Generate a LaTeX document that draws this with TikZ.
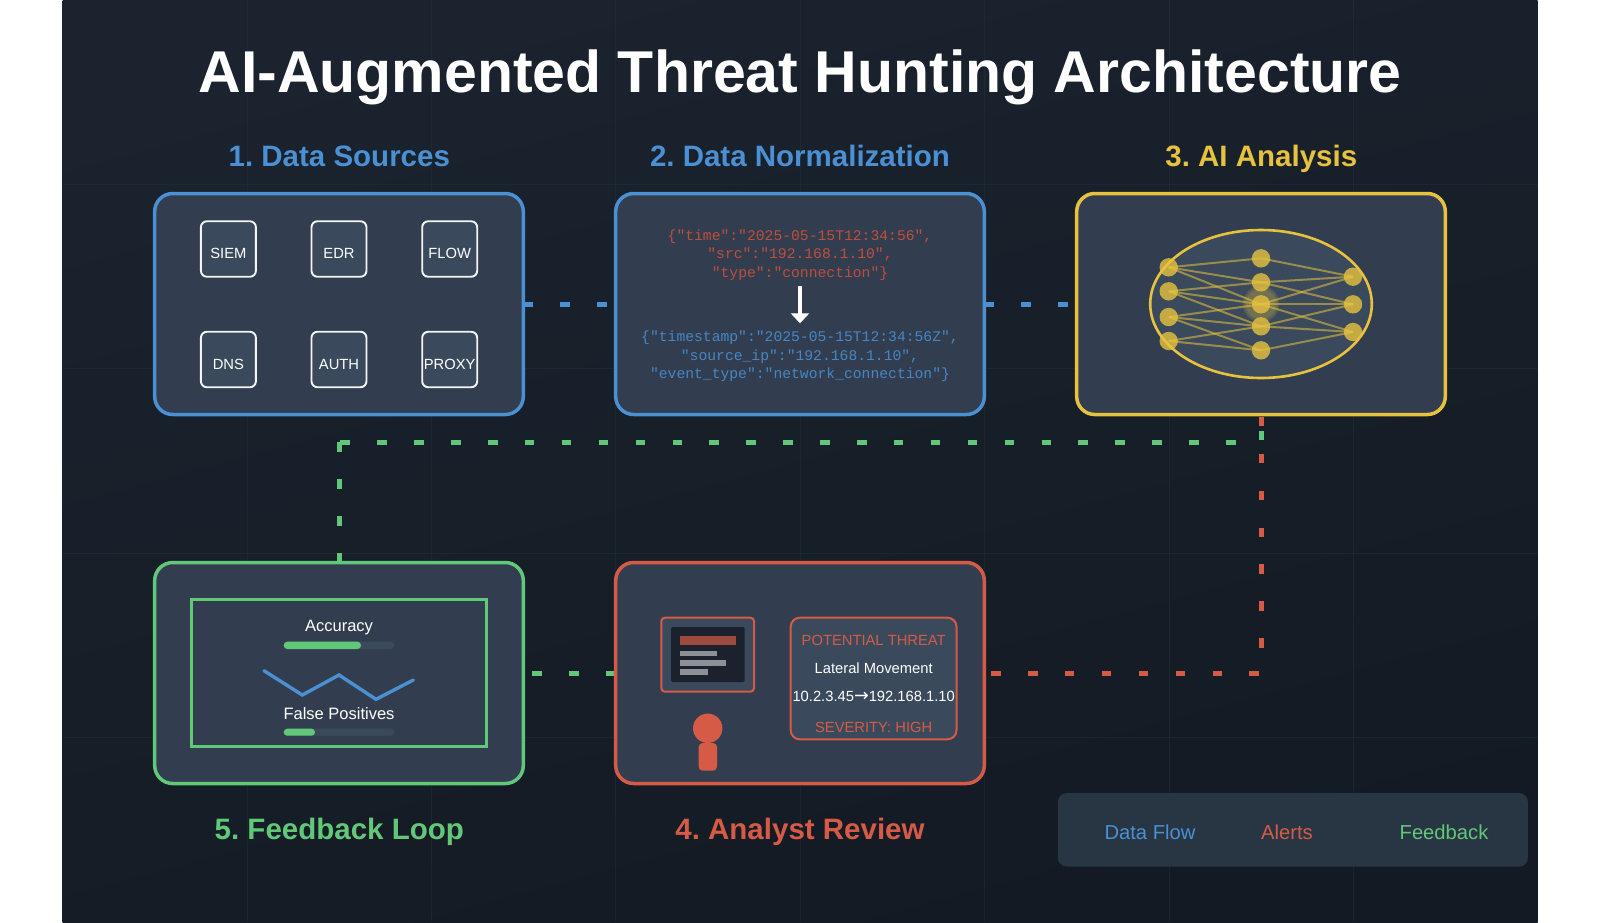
\documentclass[tikz,border=0pt]{standalone}
\usepackage{fontspec}
\setmainfont{Liberation Sans}
\newfontfamily\jsonfont{Liberation Mono}
\newfontfamily\arrowfont{DejaVu Sans}
\usetikzlibrary{arrows.meta}
\frenchspacing
\definecolor{cblue}{HTML}{4A90D2}
\definecolor{cred}{HTML}{D65B46}
\definecolor{cyel}{HTML}{E6C23F}
\definecolor{cgreen}{HTML}{62C879}
\definecolor{panelfill}{HTML}{323E4F}
\definecolor{innerfill}{HTML}{3A4A5C}
\definecolor{darkfill}{HTML}{1B222E}
\definecolor{bgtop}{HTML}{1A232E}
\definecolor{bgbottom}{HTML}{131A23}
\definecolor{legendfill}{HTML}{283543}
\definecolor{gridline}{HTML}{243540}
\definecolor{jsonred}{HTML}{BE4E3C}
\definecolor{jsonblue}{HTML}{4686C4}
\newcommand{\fsz}[1]{\fontsize{#1}{#1}\selectfont}
\tikzset{
  x=1pt,y=-1pt,
  panel/.style={draw=#1,line width=3.5pt,fill=panelfill,rounded corners=18pt,minimum width=368.6pt,minimum height=221pt,outer sep=0pt,inner sep=0pt},
  srcbox/.style={draw=white!96!black,line width=1.9pt,fill=innerfill,rounded corners=6pt,minimum width=55pt,minimum height=55.5pt,inner sep=0pt,outer sep=0pt},
  txt/.style={anchor=base,inner sep=0pt,outer sep=0pt,text=#1},
  heading/.style={txt=#1,font=\fsz{29.5}\bfseries},
  srclabel/.style={txt=white,font=\fsz{14.75}},
  jsonline/.style={txt=#1,font=\jsonfont\fsz{14.7}},
  flow/.style={draw=#1,line width=5pt,dash pattern=on 9.5pt off 27.4pt},
  nnnode/.style={circle,fill=cyel,fill opacity=.8,minimum size=18.4pt,inner sep=0pt,outer sep=0pt},
  nnedge/.style={draw=cyel,opacity=.55,line width=2pt},
  track/.style={fill=innerfill,rounded corners=3.5pt},
  meter/.style={fill=cgreen,rounded corners=3.5pt},
  graybar/.style={fill=white,fill opacity=.5},
  gridrule/.style={draw=gridline,line width=.8pt,opacity=.4},
}
\begin{document}
\begin{tikzpicture}
\useasboundingbox (0,0) rectangle (1600,922);
\fill[white] (0,0) rectangle (1600,922);
% background
\shade[top color=bgtop,bottom color=bgbottom,shading angle=15] (62.5,0) rectangle (1537.5,922);
\foreach \gx in {246.9,431.3,615.8,800.2,984.6,1169,1353.4}{\draw[gridrule] (\gx,0) -- (\gx,922);}
\foreach \gy in {184.4,368.8,553.2,737.6}{\draw[gridrule] (62.5,\gy) -- (1537.5,\gy);}
% title and headings
\node[txt=white,font=\fsz{59}\bfseries] (title) at (800,92) {AI-Augmented Threat Hunting Architecture};
\node[heading=cblue] (h1) at (339.3,166) {1. Data Sources};
\node[heading=cblue] (h2) at (800,166) {2. Data Normalization};
\node[heading=cyel] (h3) at (1261.3,166) {3. AI Analysis};
\node[heading=cgreen] (h5) at (339.3,839.6) {5. Feedback Loop};
\node[heading=cred] (h4) at (800,839.6) {4. Analyst Review};
% panels are placed first as empty anchors for the connectors
\path (339,304) node[panel=cblue,fill=none,draw=none] (a1) {};
\path (800,304) node[panel=cblue,fill=none,draw=none] (a2) {};
\path (1261,304) node[panel=cyel,fill=none,draw=none] (a3) {};
\path (800,673) node[panel=cred,fill=none,draw=none] (a4) {};
\path (339,673) node[panel=cgreen,fill=none,draw=none] (a5) {};
\coordinate (gcorner) at (339,442.3);
% connectors
\draw[flow=cblue] (a1.east) -- (a2.west);
\draw[flow=cblue] (a2.east) -- (a3.west);
\draw[flow=cred,dash phase=34.6pt] (a3.south) |- (a4.east);
\draw[flow=cgreen] (a4.west) -- (a5.east |- a4.west) ;
\draw[flow=cgreen] (a5.north) -- (gcorner);
\draw[flow=cgreen,dash phase=35.5pt] (gcorner) -| (a3.south);
% panels
\node[panel=cblue] (p1) at (a1) {};
\node[panel=cblue] (p2) at (a2) {};
\node[panel=cyel] (p3) at (a3) {};
\node[panel=cred] (p4) at (a4) {};
\node[panel=cgreen] (p5) at (a5) {};
% data sources
\node[srcbox] (s1) at (228.4,249) {};
\node[srcbox] (s2) at (339,249) {};
\node[srcbox] (s3) at (449.7,249) {};
\node[srcbox] (s4) at (228.4,359.5) {};
\node[srcbox] (s5) at (339,359.5) {};
\node[srcbox] (s6) at (449.7,359.5) {};
\node[srclabel] (t1) at (228.4,258.3) {SIEM};
\node[srclabel] (t2) at (339,258.3) {EDR};
\node[srclabel] (t3) at (449.7,258.3) {FLOW};
\node[srclabel] (t4) at (228.4,369) {DNS};
\node[srclabel] (t5) at (339,369) {AUTH};
\node[srclabel] (t6) at (449.7,369) {PROXY};
% normalization
\node[jsonline=jsonred] (j1) at (800,240) {\{"time":"2025-05-15T12:34:56",};
\node[jsonline=jsonred] (j2) at (800,258.5) {"src":"192.168.1.10",};
\node[jsonline=jsonred] (j3) at (800,277.2) {"type":"connection"\}};
\coordinate (arrowtop) at (800,285.7);
\coordinate (arrowtip) at (800,323.3);
\draw[white,line width=3.4pt,-{Triangle[width=18pt,length=10pt]}] (arrowtop) -- (arrowtip);
\node[jsonline=jsonblue] (j4) at (800,341.3) {\{"timestamp":"2025-05-15T12:34:56Z",};
\node[jsonline=jsonblue] (j5) at (800,360) {"source\_ip":"192.168.1.10",};
\node[jsonline=jsonblue] (j6) at (800,378.6) {"event\_type":"network\_connection"\}};
% neural net
\draw[cyel,line width=2.6pt,fill=innerfill] (1261,304) ellipse [x radius=110.8pt,y radius=74pt];
\fill[cyel,opacity=.12] (1261,304) circle (18.5pt);
\fill[cyel,opacity=.13] (1261,304) circle (17pt);
\fill[cyel,opacity=.13] (1261,304) circle (15pt);
\node[nnnode] (l1) at (1168.7,267.3) {};
\node[nnnode] (l2) at (1168.7,291.3) {};
\node[nnnode] (l3) at (1168.7,317) {};
\node[nnnode] (l4) at (1168.7,341) {};
\node[nnnode] (m1) at (1261,258.3) {};
\node[nnnode] (m2) at (1261,282.3) {};
\node[nnnode] (m3) at (1261,304.3) {};
\node[nnnode] (m4) at (1261,326.3) {};
\node[nnnode] (m5) at (1261,350.3) {};
\node[nnnode] (r1) at (1353,276.7) {};
\node[nnnode] (r2) at (1353,304.3) {};
\node[nnnode] (r3) at (1353,332) {};
\foreach \a/\b in {l1/m1,l1/m2,l1/m3,l2/m2,l2/m3,l2/m4,l3/m3,l3/m4,l3/m5,l4/m4,l4/m5,m1/r1,m2/r1,m2/r2,m3/r1,m3/r2,m3/r3,m4/r2,m4/r3,m5/r3}{
  \draw[nnedge] (\a.center) -- (\b.center);
}
% analyst review
\draw[cred,line width=2pt,fill=innerfill,rounded corners=3.5pt] (661.3,617.7) rectangle (754,691.7);
\fill[darkfill,rounded corners=2pt] (671,627) rectangle (744.7,682);
\fill[cred,fill opacity=.7] (680,636) rectangle (735.7,645.3);
\fill[graybar] (680,651) rectangle (717,656.3);
\fill[graybar] (680,660.3) rectangle (726.3,665.7);
\fill[graybar] (680,669.3) rectangle (707.7,674.7);
\fill[cred] (707.7,728.3) circle (14.7pt);
\fill[cred,rounded corners=4pt] (698.7,743) rectangle (717,770.7);
\draw[cred,line width=2pt,fill=innerfill,rounded corners=9pt] (790.7,617.7) rectangle (956.5,739.3);
\node[txt=cred,font=\fsz{14.75}] (a1t) at (873.7,645.7) {POTENTIAL THREAT};
\node[txt=white,font=\fsz{14.75}] (a2t) at (873.7,673.3) {Lateral Movement};
\node[txt=white,font=\fsz{14.75}] (a3t) at (873.7,701.3) {10.2.3.45{\arrowfont\fsz{17.6}→}192.168.1.10};
\node[txt=cred,font=\fsz{14.75}] (a4t) at (873.7,732) {SEVERITY: HIGH};
% feedback
\draw[cgreen,line width=3.3pt] (191.7,599.3) rectangle (486.3,746.7);
\node[txt=white,font=\fsz{16.5}] (acc) at (339,631.7) {Accuracy};
\fill[track] (283.7,641.7) rectangle (394,649);
\fill[meter] (283.7,641.7) rectangle (361,649);
\draw[cblue,line width=3.4pt,line cap=round,line join=miter] (264,670.7) -- (302.3,695) -- (339,675) -- (376,699.3) -- (413.3,680);
\node[txt=white,font=\fsz{16.5}] (fp) at (339,719) {False Positives};
\fill[track] (283.7,728.7) rectangle (394,735.7);
\fill[meter] (283.7,728.7) rectangle (315,735.7);
% legend
\fill[legendfill,rounded corners=9pt] (1057.9,793) rectangle (1527.9,866.7);
\node[txt=cblue,font=\fsz{20.2}] (lg1) at (1150,839) {Data Flow};
\node[txt=cred,font=\fsz{20.2}] (lg2) at (1287,839) {Alerts};
\node[txt=cgreen,font=\fsz{20.2}] (lg3) at (1444,839) {Feedback};
\end{tikzpicture}
\end{document}
